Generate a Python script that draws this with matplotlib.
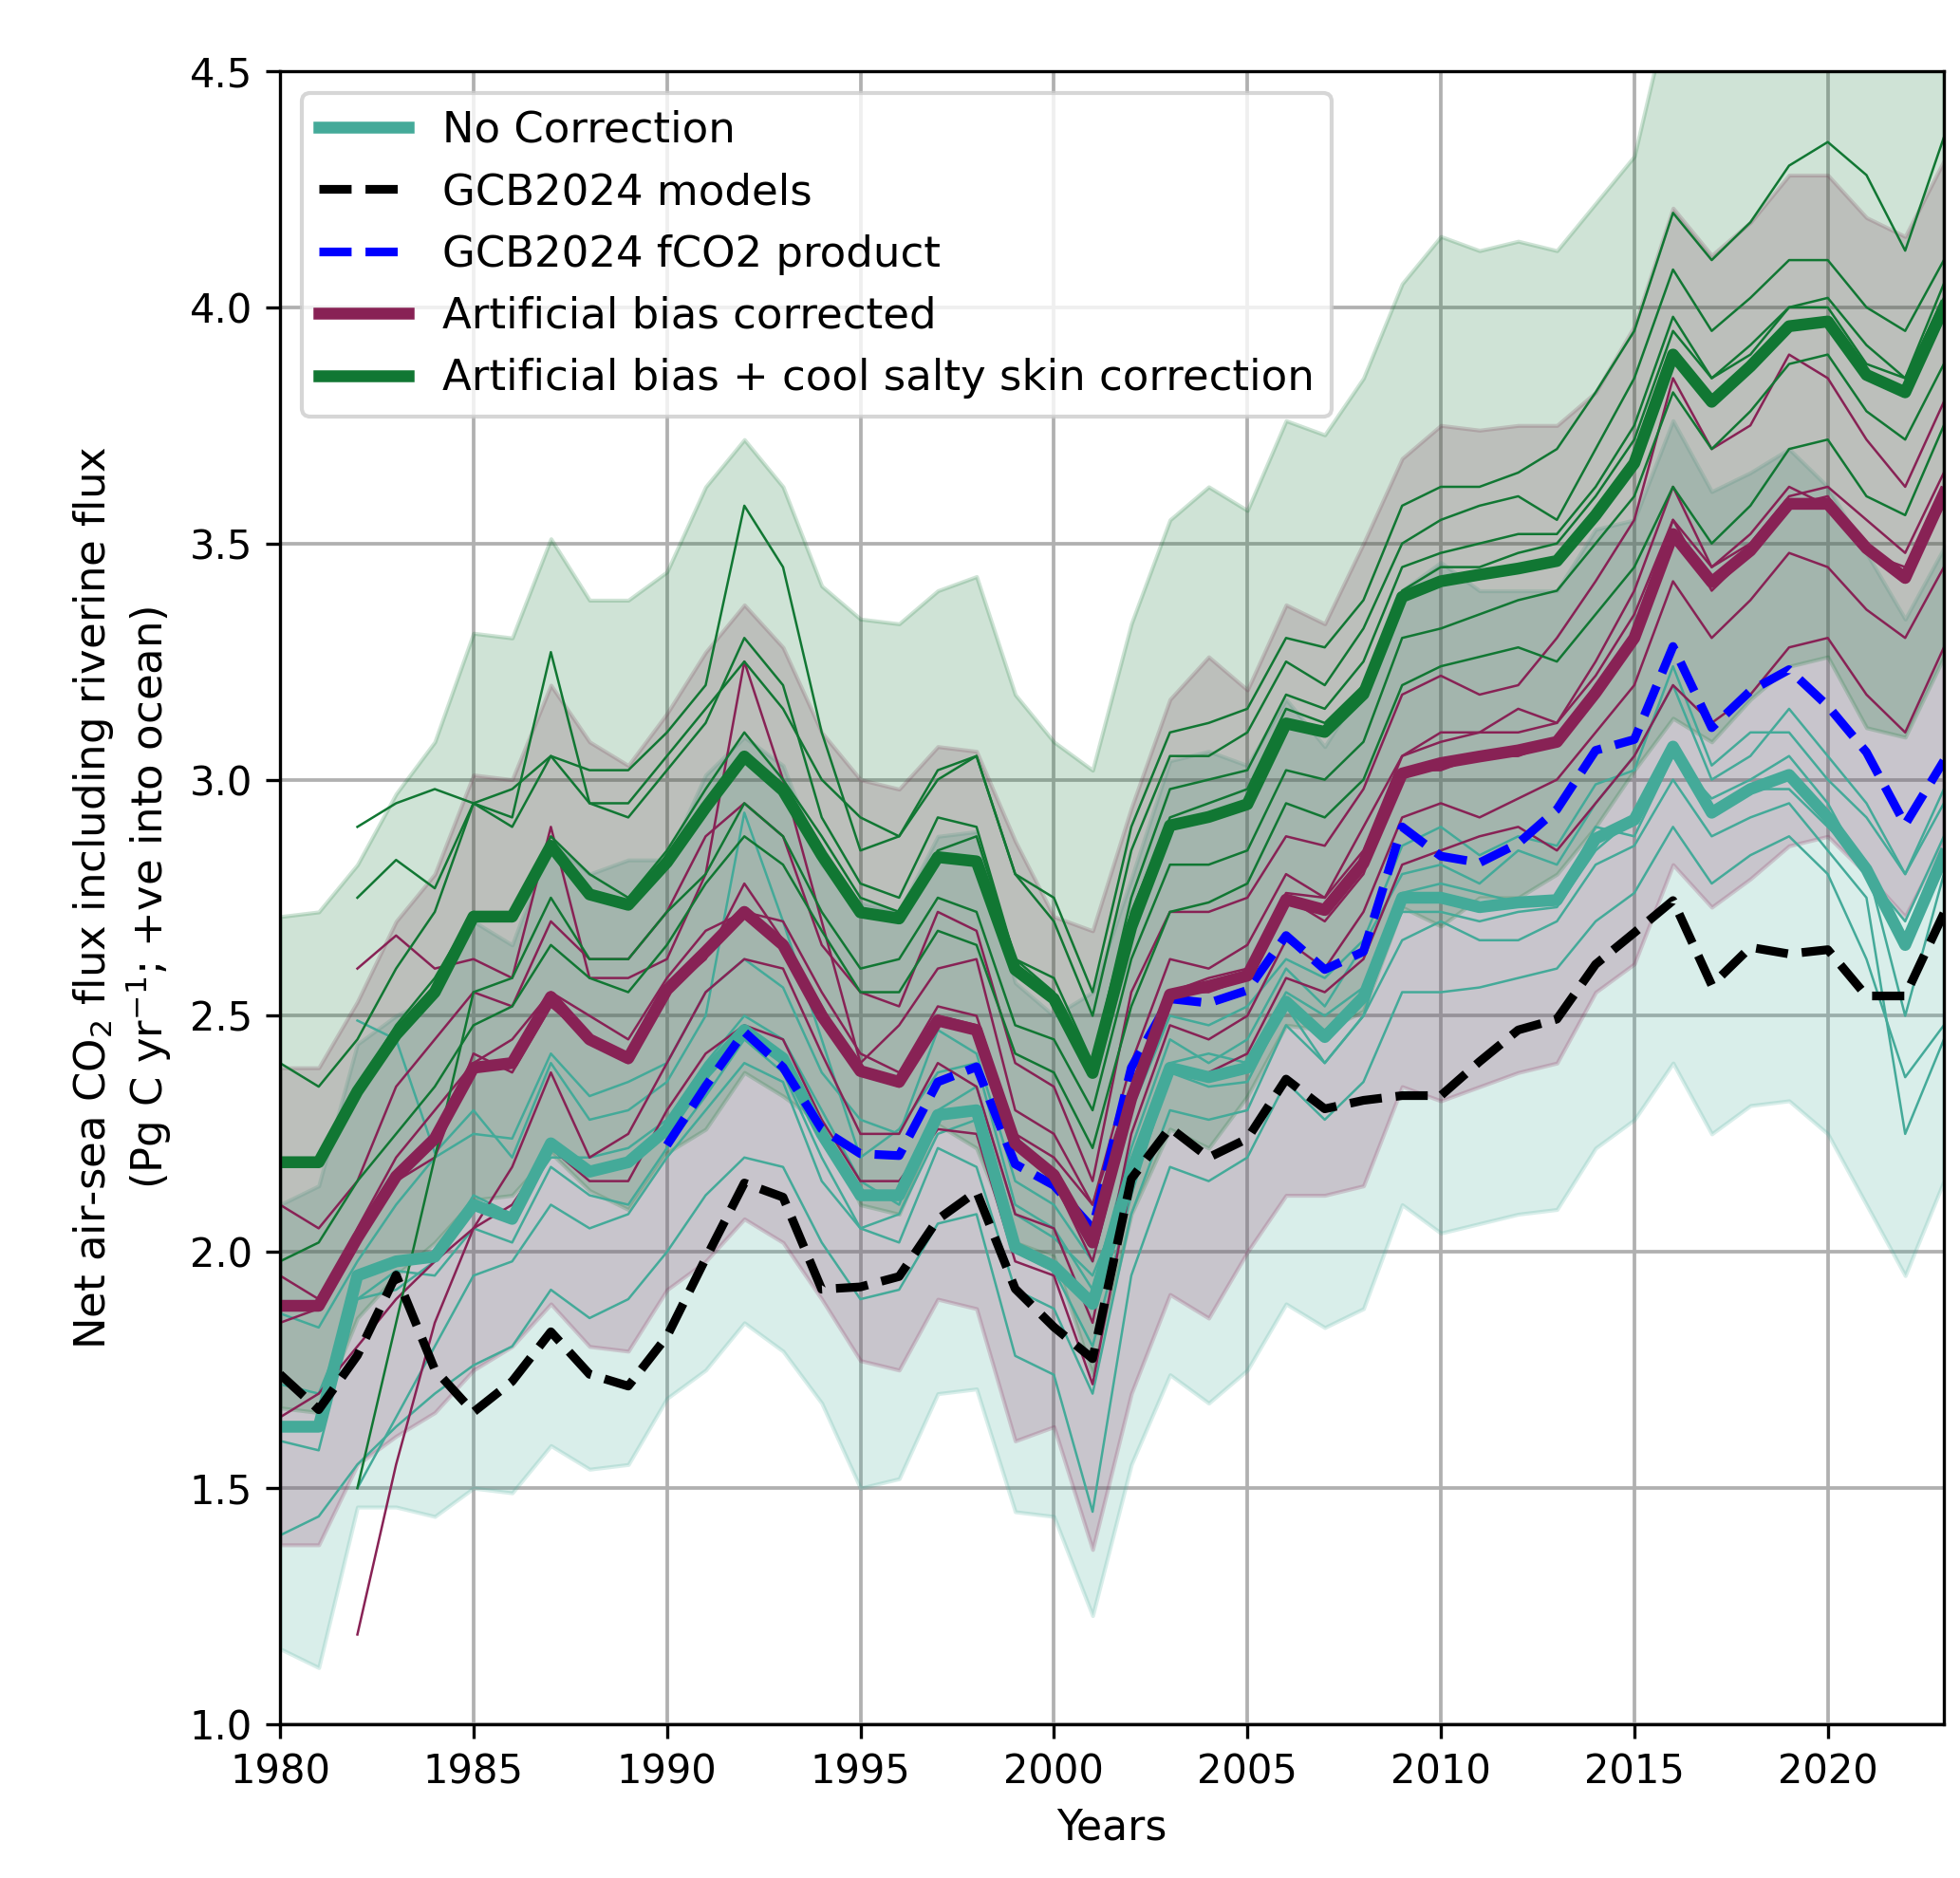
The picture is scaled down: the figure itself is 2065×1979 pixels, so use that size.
import numpy as np
import matplotlib
matplotlib.use('Agg')
import matplotlib.pyplot as plt

nan = np.nan
years = np.arange(1980, 2024)
fco2_years = np.arange(1990, 2024)

TEAL = '#44AA99'
WINE = '#882255'
GREEN = '#117733'

# ensemble means
teal_mean = [1.63, 1.63, 1.95, 1.98, 1.99, 2.10, 2.07, 2.23, 2.17, 2.19, 2.26,
             2.38, 2.47, 2.41, 2.25, 2.12, 2.12, 2.29, 2.30, 2.01, 1.97, 1.89,
             2.17, 2.39, 2.37, 2.39, 2.53, 2.455, 2.54, 2.75, 2.75, 2.73, 2.74,
             2.745, 2.875, 2.915, 3.07, 2.93, 2.98, 3.01, 2.92, 2.81, 2.65, 2.84]
teal_lo = [1.16, 1.12, 1.46, 1.46, 1.44, 1.50, 1.49, 1.59, 1.54, 1.55, 1.69,
           1.75, 1.85, 1.79, 1.68, 1.50, 1.52, 1.70, 1.71, 1.45, 1.44, 1.23,
           1.55, 1.74, 1.68, 1.75, 1.89, 1.84, 1.88, 2.10, 2.04, 2.06, 2.08,
           2.09, 2.22, 2.28, 2.40, 2.25, 2.31, 2.32, 2.25, 2.10, 1.95, 2.15]
teal_hi = [2.10, 2.14, 2.44, 2.50, 2.54, 2.70, 2.65, 2.87, 2.80, 2.83, 2.83,
           3.01, 3.09, 3.03, 2.82, 2.74, 2.72, 2.88, 2.89, 2.57, 2.50, 2.55,
           2.79, 3.04, 3.06, 3.03, 3.17, 3.07, 3.20, 3.40, 3.46, 3.40, 3.40,
           3.40, 3.53, 3.55, 3.76, 3.61, 3.65, 3.70, 3.62, 3.48, 3.34, 3.49]

wine_mean = [1.886, 1.886, 2.03, 2.16, 2.24, 2.39, 2.40, 2.54, 2.45, 2.41, 2.555,
             2.636, 2.72, 2.65, 2.50, 2.383, 2.36, 2.49, 2.47, 2.23, 2.163, 2.02,
             2.325, 2.545, 2.563, 2.585, 2.746, 2.724, 2.823, 3.013, 3.035, 3.049, 3.062,
             3.08, 3.184, 3.30, 3.52, 3.418, 3.485, 3.584, 3.584, 3.49, 3.427, 3.606]
wine_lo = [1.38, 1.38, 1.55, 1.61, 1.66, 1.75, 1.80, 1.89, 1.80, 1.79, 1.92,
           1.98, 2.07, 2.02, 1.90, 1.77, 1.75, 1.90, 1.88, 1.60, 1.63, 1.37,
           1.70, 1.91, 1.86, 2.00, 2.12, 2.12, 2.14, 2.35, 2.32, 2.35, 2.38,
           2.40, 2.55, 2.61, 2.82, 2.73, 2.79, 2.86, 2.88, 2.80, 2.71, 2.87]
wine_hi = [2.39, 2.39, 2.53, 2.70, 2.80, 3.01, 3.00, 3.20, 3.08, 3.03, 3.14,
           3.27, 3.37, 3.28, 3.10, 3.00, 2.98, 3.07, 3.06, 2.87, 2.71, 2.68,
           2.94, 3.17, 3.26, 3.19, 3.37, 3.33, 3.50, 3.68, 3.75, 3.74, 3.75,
           3.75, 3.82, 3.96, 4.21, 4.11, 4.18, 4.28, 4.28, 4.19, 4.15, 4.31]

green_mean = [2.19, 2.19, 2.34, 2.46, 2.55, 2.71, 2.71, 2.86, 2.757, 2.735, 2.825,
              2.941, 3.049, 2.977, 2.84, 2.719, 2.706, 2.836, 2.827, 2.598, 2.536, 2.379,
              2.688, 2.903, 2.921, 2.948, 3.119, 3.101, 3.181, 3.387, 3.42, 3.434, 3.447,
              3.463, 3.56, 3.67, 3.90, 3.80, 3.875, 3.96, 3.97, 3.857, 3.82, 4.0]
green_lo = [1.67, 1.66, 1.86, 1.95, 2.02, 2.11, 2.12, 2.21, 2.13, 2.09, 2.21,
            2.26, 2.38, 2.33, 2.27, 2.10, 2.08, 2.27, 2.22, 2.02, 1.99, 1.74,
            2.08, 2.26, 2.22, 2.33, 2.48, 2.47, 2.51, 2.73, 2.69, 2.75, 2.75,
            2.80, 2.90, 3.02, 3.13, 3.08, 3.17, 3.24, 3.26, 3.11, 3.09, 3.26]
green_hi = [2.71, 2.72, 2.82, 2.97, 3.08, 3.31, 3.30, 3.51, 3.38, 3.38, 3.44,
            3.62, 3.72, 3.62, 3.41, 3.34, 3.33, 3.40, 3.43, 3.18, 3.08, 3.02,
            3.33, 3.55, 3.62, 3.57, 3.76, 3.73, 3.85, 4.05, 4.15, 4.12, 4.14,
            4.12, 4.22, 4.32, 4.67, 4.52, 4.58, 4.68, 4.68, 4.60, 4.55, 4.74]

gcb_models = [1.741, 1.666, 1.781, 1.951, 1.751, 1.661, 1.726, 1.831, 1.741, 1.716, 1.821,
              1.986, 2.146, 2.116, 1.921, 1.926, 1.948, 2.069, 2.128, 1.922, 1.841, 1.774,
              2.155, 2.263, 2.20, 2.24, 2.366, 2.303, 2.321, 2.331, 2.331, 2.403, 2.47,
              2.493, 2.609, 2.676, 2.744, 2.565, 2.645, 2.631, 2.64, 2.542, 2.542, 2.717]
gcb_fco2 = [2.226, 2.351, 2.466, 2.391, 2.26, 2.208, 2.204, 2.36, 2.392, 2.186,
            2.141, 2.05, 2.39, 2.536, 2.527, 2.554, 2.67, 2.598, 2.636, 2.90,
            2.838, 2.824, 2.865, 2.937, 3.062, 3.085, 3.282, 3.11, 3.188, 3.233,
            3.156, 3.058, 2.905, 3.04]

# individual ensemble members
teal_members = [
    [1.87, 1.84, 1.98, 2.10, 2.20, 2.25, 2.24, 2.42, 2.33, 2.36, 2.40,
     2.55, 2.62, 2.56, 2.38, 2.28, 2.25, 2.47, 2.42, 2.15, 2.10, 1.98,
     2.30, 2.50, 2.48, 2.52, 2.62, 2.58, 2.66, 2.86, 2.90, 2.84, 2.88,
     2.86, 2.99, 3.02, 3.24, 3.03, 3.10, 3.10, 3.00, 2.92, 2.80, 2.95],
    [1.40, 1.44, 1.55, 1.63, 1.70, 1.76, 1.80, 1.92, 1.86, 1.90, 2.00,
     2.12, 2.20, 2.18, 2.02, 1.90, 1.92, 2.06, 2.08, 1.78, 1.74, 1.45,
     1.95, 2.18, 2.15, 2.20, 2.36, 2.28, 2.36, 2.55, 2.55, 2.56, 2.58,
     2.60, 2.70, 2.76, 2.90, 2.78, 2.84, 2.88, 2.80, 2.62, 2.37, 2.48],
    [nan, nan, 2.49, 2.45, 2.21, 2.30, 2.20, 2.40, 2.28, 2.30, 2.36,
     2.50, 2.93, 2.70, 2.45, 2.20, 2.26, 2.38, 2.40, 2.10, 2.05, 1.92,
     2.22, 2.45, 2.40, 2.45, 2.60, 2.52, 2.65, 2.80, 2.82, 2.78, 2.85,
     2.82, 2.95, 3.05, 3.20, 3.00, 3.05, 3.15, 3.05, 2.95, 2.80, 2.98],
    [nan, nan, 1.50, 1.65, 1.80, 1.95, 1.98, 2.10, 2.05, 2.08, 2.20,
     2.30, 2.40, 2.36, 2.15, 2.05, 2.02, 2.22, 2.18, 1.92, 1.88, 1.70,
     2.08, 2.30, 2.28, 2.30, 2.48, 2.40, 2.50, 2.66, 2.70, 2.66, 2.66,
     2.70, 2.82, 2.86, 3.00, 2.88, 2.92, 2.95, 2.85, 2.75, 2.25, 2.45],
    [1.72, 1.70, 1.90, 1.96, 1.95, 2.05, 2.02, 2.18, 2.12, 2.10, 2.22,
     2.33, 2.45, 2.38, 2.20, 2.05, 2.08, 2.25, 2.28, 2.00, 1.96, 1.80,
     2.12, 2.38, 2.35, 2.36, 2.52, 2.40, 2.50, 2.76, 2.78, 2.76, 2.74,
     2.75, 2.90, 2.88, 3.05, 2.96, 3.00, 3.05, 2.95, 2.80, 2.70, 2.88],
    [1.60, 1.58, 1.90, 1.92, 1.98, 2.12, 2.08, 2.20, 2.20, 2.22, 2.28,
     2.40, 2.50, 2.45, 2.30, 2.15, 2.10, 2.30, 2.35, 2.08, 2.03, 1.95,
     2.15, 2.40, 2.42, 2.40, 2.55, 2.50, 2.56, 2.72, 2.72, 2.70, 2.72,
     2.73, 2.85, 2.92, 3.05, 2.94, 2.98, 2.98, 2.90, 2.82, 2.50, 2.80],
]
wine_members = [
    [2.10, 2.05, 2.15, 2.35, 2.45, 2.55, 2.52, 2.70, 2.62, 2.62, 2.72,
     2.88, 2.95, 2.88, 2.65, 2.55, 2.52, 2.72, 2.68, 2.40, 2.35, 2.15,
     2.55, 2.72, 2.72, 2.75, 2.88, 2.86, 2.98, 3.18, 3.22, 3.18, 3.20,
     3.30, 3.42, 3.55, 3.85, 3.70, 3.75, 3.90, 3.85, 3.72, 3.62, 3.80],
    [1.65, 1.70, 1.80, 1.90, 1.98, 2.05, 2.10, 2.22, 2.15, 2.15, 2.30,
     2.42, 2.48, 2.45, 2.28, 2.15, 2.15, 2.26, 2.25, 1.98, 1.95, 1.72,
     2.15, 2.38, 2.38, 2.42, 2.58, 2.55, 2.62, 2.82, 2.85, 2.88, 2.90,
     2.85, 2.95, 3.05, 3.20, 3.12, 3.18, 3.28, 3.30, 3.18, 3.10, 3.28],
    [nan, nan, 2.60, 2.67, 2.60, 2.62, 2.58, 2.90, 2.58, 2.58, 2.62,
     2.80, 3.25, 3.00, 2.70, 2.40, 2.48, 2.60, 2.62, 2.30, 2.25, 2.10,
     2.40, 2.62, 2.60, 2.65, 2.80, 2.75, 2.90, 3.05, 3.10, 3.10, 3.15,
     3.12, 3.25, 3.40, 3.62, 3.45, 3.52, 3.62, 3.58, 3.50, 3.42, 3.62],
    [nan, nan, 1.19, 1.55, 1.85, 2.05, 2.18, 2.38, 2.20, 2.25, 2.40,
     2.55, 2.62, 2.60, 2.42, 2.25, 2.25, 2.40, 2.35, 2.08, 2.05, 1.85,
     2.25, 2.48, 2.45, 2.50, 2.66, 2.60, 2.72, 2.92, 2.95, 2.92, 2.96,
     3.00, 3.10, 3.20, 3.42, 3.30, 3.38, 3.48, 3.45, 3.36, 3.30, 3.45],
    [1.95, 1.90, 2.02, 2.15, 2.20, 2.42, 2.38, 2.52, 2.45, 2.40, 2.55,
     2.62, 2.78, 2.66, 2.52, 2.38, 2.35, 2.50, 2.48, 2.22, 2.15, 1.98,
     2.30, 2.55, 2.55, 2.58, 2.75, 2.70, 2.80, 3.02, 3.02, 3.05, 3.05,
     3.08, 3.20, 3.30, 3.55, 3.40, 3.48, 3.58, 3.60, 3.48, 3.45, 3.58],
    [1.85, 1.88, 2.05, 2.20, 2.30, 2.40, 2.45, 2.55, 2.50, 2.45, 2.58,
     2.68, 2.72, 2.70, 2.55, 2.42, 2.38, 2.52, 2.50, 2.25, 2.20, 2.10,
     2.35, 2.55, 2.58, 2.60, 2.76, 2.75, 2.85, 3.05, 3.08, 3.10, 3.10,
     3.12, 3.22, 3.35, 3.55, 3.45, 3.50, 3.60, 3.62, 3.55, 3.48, 3.65],
]
green_members = [
    [2.40, 2.35, 2.45, 2.60, 2.72, 2.95, 2.90, 3.05, 2.95, 2.95, 3.05,
     3.15, 3.25, 3.15, 3.00, 2.92, 2.88, 3.02, 3.05, 2.80, 2.75, 2.55,
     2.90, 3.10, 3.12, 3.15, 3.30, 3.28, 3.38, 3.58, 3.62, 3.62, 3.65,
     3.70, 3.82, 3.95, 4.20, 4.10, 4.18, 4.30, 4.35, 4.28, 4.12, 4.36],
    [1.98, 2.02, 2.15, 2.25, 2.35, 2.48, 2.52, 2.65, 2.58, 2.55, 2.65,
     2.78, 2.88, 2.82, 2.68, 2.55, 2.55, 2.68, 2.65, 2.42, 2.38, 2.22,
     2.52, 2.72, 2.74, 2.78, 2.95, 2.92, 3.00, 3.20, 3.24, 3.26, 3.28,
     3.25, 3.35, 3.45, 3.62, 3.50, 3.58, 3.70, 3.72, 3.60, 3.56, 3.75],
    [nan, nan, 2.90, 2.95, 2.98, 2.95, 2.98, 3.05, 3.02, 3.02, 3.10,
     3.20, 3.58, 3.45, 3.10, 2.85, 2.88, 3.00, 3.05, 2.80, 2.70, 2.50,
     2.85, 3.05, 3.05, 3.10, 3.25, 3.20, 3.32, 3.50, 3.55, 3.58, 3.60,
     3.55, 3.70, 3.85, 4.08, 3.95, 4.02, 4.10, 4.10, 4.00, 3.95, 4.10],
    [nan, nan, 2.75, 2.83, 2.77, 2.95, 2.92, 3.27, 2.95, 2.92, 3.02,
     3.12, 3.30, 3.20, 2.92, 2.78, 2.75, 2.92, 2.90, 2.62, 2.58, 2.40,
     2.75, 2.98, 3.00, 3.02, 3.18, 3.15, 3.25, 3.45, 3.48, 3.50, 3.52,
     3.52, 3.62, 3.75, 3.98, 3.85, 3.92, 4.00, 4.02, 3.92, 3.85, 4.02],
    [nan, nan, 1.50, 1.85, 2.20, 2.55, 2.58, 2.75, 2.62, 2.62, 2.72,
     2.80, 2.95, 2.88, 2.72, 2.60, 2.62, 2.75, 2.72, 2.48, 2.45, 2.30,
     2.62, 2.82, 2.82, 2.85, 3.02, 3.00, 3.08, 3.30, 3.32, 3.35, 3.38,
     3.40, 3.50, 3.60, 3.82, 3.70, 3.78, 3.88, 3.90, 3.78, 3.72, 3.88],
    [2.20, 2.18, 2.35, 2.48, 2.58, 2.72, 2.70, 2.88, 2.80, 2.75, 2.85,
     2.98, 3.10, 3.00, 2.88, 2.75, 2.72, 2.85, 2.88, 2.62, 2.55, 2.38,
     2.72, 2.92, 2.95, 2.98, 3.15, 3.12, 3.20, 3.40, 3.45, 3.45, 3.48,
     3.50, 3.60, 3.72, 3.95, 3.85, 3.90, 4.00, 4.00, 3.88, 3.85, 4.05],
]

fig = plt.figure(figsize=(2065 / 300, 1979 / 300), dpi=300)
ax = fig.add_axes([295 / 2065, 1 - 1817 / 1979, 1753 / 2065, 1742 / 1979])

ax.fill_between(years, teal_lo, teal_hi, color=TEAL, alpha=0.2)
ax.fill_between(years, wine_lo, wine_hi, color=WINE, alpha=0.2)
ax.fill_between(years, green_lo, green_hi, color=GREEN, alpha=0.2)

for m in teal_members:
    ax.plot(years, m, color=TEAL, lw=0.6)
for m in wine_members:
    ax.plot(years, m, color=WINE, lw=0.6)
for m in green_members:
    ax.plot(years, m, color=GREEN, lw=0.6)

ax.plot(years, teal_mean, color=TEAL, lw=3, label='No Correction')
ax.plot(years, gcb_models, color='black', ls='--', lw=2.2, label='GCB2024 models')
ax.plot(fco2_years, gcb_fco2, color='blue', ls='--', lw=2.2, label='GCB2024 fCO2 product')
ax.plot(years, wine_mean, color=WINE, lw=3, label='Artificial bias corrected')
ax.plot(years, green_mean, color=GREEN, lw=3,
        label='Artificial bias + cool salty skin correction')

ax.set_xlim(1980, 2023)
ax.set_ylim(1.0, 4.5)
ax.set_xticks(np.arange(1980, 2021, 5))
ax.set_yticks(np.arange(1.0, 4.51, 0.5))
ax.grid(True, color='#b0b0b0', lw=0.9)
ax.set_axisbelow(True)

ax.set_xlabel('Years', fontsize=10.6)
ax.set_ylabel('Net air-sea CO$_2$ flux including riverine flux\n'
              '(Pg C yr$^{-1}$; +ve into ocean)', fontsize=10.8)
ax.tick_params(labelsize=10)
ax.legend(loc='upper left', fontsize=10.8, handlelength=2.1)

fig.savefig('out.png', dpi=300)
